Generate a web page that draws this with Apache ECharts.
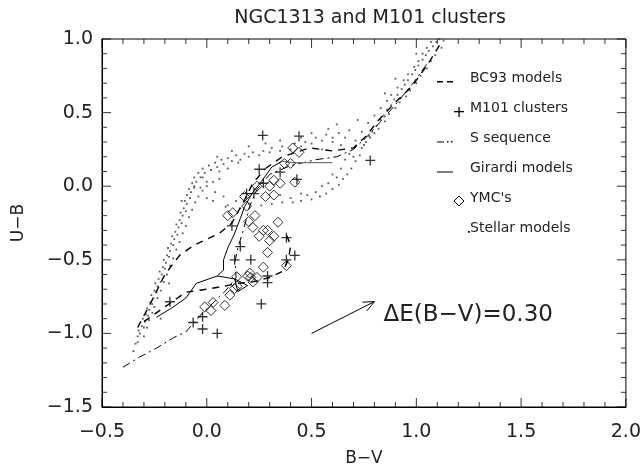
<!DOCTYPE html>
<html><head><meta charset="utf-8">
<script src="https://cdn.jsdelivr.net/npm/echarts@6/dist/echarts.min.js"></script>
<style>html,body{margin:0;padding:0;background:#fff}#c{width:644px;height:472px}</style>
</head><body><div id="c"></div>
<script>
// ---- data ----
const titleText = 'NGC1313 and M101 clusters';
const xRange = [-0.5, 2.0];
const yRange = [-1.5, 1.0];
const tickStep = 0.5;
const minorSplit = 5;

const stellarModels = [
[-0.35,-1.12],[-0.34,-1.07],[-0.33,-1.02],[-0.325,-0.98],[-0.31,-0.95],[-0.305,-0.9],[-0.29,-0.87],[-0.285,-0.83],[-0.27,-0.79],[-0.265,-0.74],[-0.25,-0.71],[-0.245,-0.66],[-0.23,-0.63],[-0.225,-0.58],[-0.21,-0.55],[-0.205,-0.5],[-0.19,-0.47],[-0.185,-0.42],[-0.17,-0.39],[-0.165,-0.34],[-0.15,-0.31],[-0.145,-0.26],[-0.13,-0.23],[-0.125,-0.18],[-0.11,-0.15],[-0.105,-0.1],[-0.095,-0.06],[-0.085,-0.02],[-0.07,0.02],[-0.06,0.06],[-0.04,0.09],[-0.02,0.12],[0.01,0.14],[0.04,0.16],[0.07,0.18],[0.1,0.19],[0.14,0.21],[0.18,0.22],[0.22,0.23],[0.27,0.24],[0.31,0.26],[0.36,0.27],[0.42,0.29],[0.47,0.3],[0.52,0.33],[0.57,0.35],[0.63,0.36],[0.68,0.38],
[-0.3,-1.02],[-0.285,-0.96],[-0.275,-0.91],[-0.26,-0.86],[-0.25,-0.82],[-0.235,-0.76],[-0.22,-0.71],[-0.205,-0.65],[-0.19,-0.6],[-0.175,-0.54],[-0.16,-0.49],[-0.145,-0.43],[-0.13,-0.38],[-0.115,-0.32],[-0.1,-0.27],[-0.085,-0.21],[-0.07,-0.16],[-0.055,-0.11],[-0.04,-0.07],[-0.02,-0.03],[0.0,0.0],[0.03,0.03],[0.06,0.05],
[-0.33,-1.06],[-0.32,-1.0],[-0.3,-0.96],[-0.295,-0.92],[-0.28,-0.88],[-0.275,-0.84],[-0.26,-0.8],[-0.255,-0.76],[-0.24,-0.72],[-0.235,-0.68],[-0.22,-0.65],[-0.215,-0.6],[-0.2,-0.56],[-0.195,-0.52],[-0.18,-0.48],[-0.175,-0.44],[-0.16,-0.4],[-0.155,-0.36],[-0.14,-0.33],[-0.135,-0.28],[-0.12,-0.25],[-0.115,-0.2],[-0.1,-0.17],[-0.095,-0.12],[-0.08,-0.08],[-0.075,-0.04],[-0.06,-0.01],[-0.05,0.03],[-0.03,0.06],[-0.01,0.09],[0.02,0.11],[0.05,0.13],[0.08,0.15],[0.12,0.17],[0.16,0.18],[0.2,0.2],[0.25,0.21],[0.3,0.23],[0.35,0.24],[0.4,0.25],[0.45,0.27],[0.5,0.29],[0.55,0.31],[0.6,0.33],
[-0.12,-0.1],[-0.06,0.0],[-0.02,0.06],[0.0,-0.08],[0.03,-0.1],[0.06,0.1],[0.1,0.12],[0.15,0.16],[0.09,-0.14],[-0.22,-0.9],[-0.18,-0.66],
[0.05,0.2],[0.12,0.24],[0.2,0.27],[0.28,0.29],[0.35,0.31],[0.45,0.33],[0.5,0.36],[0.58,0.39],[0.62,0.42],[0.0,0.03],[-0.03,-0.01],[0.04,-0.04],[0.08,-0.07],[0.14,-0.1],[0.2,-0.12],
[0.1,-0.13],[0.16,-0.15],[0.26,-0.13],[0.31,-0.12],[0.36,-0.11],[0.41,-0.11],[0.45,-0.1],[0.5,-0.09],[0.54,-0.07],[0.57,-0.05],[0.6,-0.02],[0.63,0.01],[0.65,0.05],[0.67,0.08],[0.69,0.12],[0.71,0.17],[0.73,0.21],[0.35,-0.06],[0.45,-0.05],[0.55,0.0],[0.62,0.06],
[0.4,-0.08],[0.48,-0.06],[0.52,-0.04],[0.58,0.02],[0.6,0.08],[0.64,0.12],[0.66,0.18],[0.68,0.22],[0.7,0.2],
[0.74,0.26],[0.76,0.3],[0.775,0.34],[0.79,0.37],[0.81,0.41],[0.83,0.45],[0.845,0.48],[0.86,0.52],[0.88,0.55],[0.895,0.59],[0.91,0.62],[0.93,0.66],[0.945,0.69],[0.96,0.72],[0.98,0.76],[0.995,0.79],[1.01,0.82],[1.03,0.86],[1.045,0.89],[1.06,0.92],[1.08,0.95],[1.095,0.98],[1.11,1.0],
[0.75,0.28],[0.78,0.33],[0.8,0.36],[0.82,0.39],[0.85,0.44],[0.87,0.49],[0.9,0.53],[0.92,0.57],[0.95,0.61],[0.97,0.65],[1.0,0.7],[1.02,0.75],[1.05,0.8],[1.07,0.85],[1.09,0.89],[1.12,0.94],[1.13,0.99],
[0.71,0.31],[0.74,0.37],[0.77,0.43],[0.8,0.48],[0.83,0.53],[0.86,0.58],[0.88,0.62],[0.91,0.67],[0.94,0.72],[0.96,0.76],[0.99,0.81],[1.01,0.85],[1.03,0.9],[1.05,0.94],[1.07,0.98],
[0.6,0.3],[0.66,0.33],[0.72,0.45],[0.85,0.63],[0.9,0.73],[1.0,0.9],[0.55,0.25],[0.64,0.28]
];

const bc93Upper = [[0.28,0.12],[0.36,0.20],[0.49,0.26],[0.60,0.24],[0.70,0.26],[0.76,0.34],[0.82,0.45],[0.90,0.57],[0.98,0.68],[1.06,0.84],[1.12,0.98]];
const bc93Middle = [[-0.33,-0.96],[-0.27,-0.80],[-0.20,-0.60],[-0.13,-0.47],[-0.06,-0.40],[0.0,-0.36],[0.06,-0.32],[0.12,-0.25],[0.17,-0.12],[0.22,0.02],[0.28,0.12]];
const bc93Lower = [[-0.30,-0.92],[-0.18,-0.80],[-0.10,-0.72],[0.0,-0.70],[0.08,-0.68],[0.15,-0.66],[0.22,-0.65],[0.30,-0.62],[0.36,-0.58],[0.39,-0.50],[0.40,-0.40],[0.38,-0.33]];

const sSequence = [[-0.40,-1.23],[-0.32,-1.16],[-0.24,-1.10],[-0.16,-1.03],[-0.10,-0.99],[-0.02,-0.86],[0.04,-0.78],[0.09,-0.71],[0.14,-0.62],[0.135,-0.51],[0.15,-0.41],[0.17,-0.32],[0.19,-0.22],[0.205,-0.135],[0.24,-0.02],[0.30,0.08],[0.40,0.14],[0.52,0.18],[0.62,0.20],[0.70,0.25],[0.76,0.33],[0.83,0.44],[0.91,0.57],[0.99,0.71],[1.06,0.85]];

const girardiMain = [[-0.24,-0.89],[-0.17,-0.83],[-0.10,-0.76],[-0.05,-0.66],[0.05,-0.61],[0.08,-0.57],[0.08,-0.50],[0.10,-0.42],[0.13,-0.33],[0.16,-0.22],[0.18,-0.14],[0.22,-0.04],[0.26,0.03],[0.31,0.13],[0.36,0.17]];
const girardiLoop = [[0.05,-0.61],[0.133,-0.63],[0.195,-0.675],[0.148,-0.716],[0.133,-0.63]];
const girardiTail = [[0.36,0.17],[0.41,0.16],[0.60,0.16]];

const m101Clusters = [[0.267,0.345],[0.44,0.34],[0.78,0.175],[0.25,0.115],[0.35,0.095],[0.43,0.047],[0.27,0.02],[0.19,-0.05],[0.225,-0.05],[0.12,-0.27],[0.38,-0.35],[0.16,-0.41],[0.42,-0.47],[0.133,-0.50],[0.21,-0.50],[0.38,-0.50],[0.29,-0.61],[0.29,-0.655],[0.26,-0.80],[-0.065,-0.926],[-0.02,-0.887],[-0.02,-0.97],[0.05,-1.0],[-0.176,-0.785]];

const ymcs = [[0.41,0.26],[0.44,0.23],[0.37,0.155],[0.40,0.155],[0.32,0.04],[0.35,0.02],[0.42,0.027],[0.30,0.0],[0.24,0.0],[0.28,-0.07],[0.32,-0.06],[0.18,-0.07],[0.19,-0.135],[0.23,-0.20],[0.10,-0.20],[0.124,-0.18],[0.20,-0.24],[0.34,-0.245],[0.22,-0.28],[0.27,-0.30],[0.29,-0.30],[0.25,-0.34],[0.32,-0.34],[0.30,-0.37],[0.29,-0.45],[0.27,-0.55],[0.205,-0.59],[0.195,-0.61],[0.22,-0.65],[0.38,-0.54],[0.143,-0.615],[0.133,-0.695],[0.145,-0.68],[0.11,-0.74],[0.086,-0.81],[0.03,-0.79],[-0.01,-0.82],[0.02,-0.845],[0.21,-0.62],[0.24,-0.62]];

const reddeningStart = [0.5, -1.0];
const reddeningEBV = 0.30;
const reddeningSlope = 0.72;
const reddeningLabel = 'ΔE(B−V)=0.30';

const legendItems = ['BC93 models', 'M101 clusters', 'S sequence', 'Girardi models', "YMC's", 'Stellar models'];
const xName = 'B−V';
const yName = 'U−B';

// ---- chart ----
const FONT = 'DejaVu Sans';
const TXT = '#222';
const fmt = v => (v < 0 ? '−' : '') + Math.abs(v).toFixed(1);
const reddeningEnd = [reddeningStart[0] + reddeningEBV, reddeningStart[1] + reddeningSlope * reddeningEBV];

// inside ticks on all four edges, drawn as scatter marks on the axes' own scales
const minorStep = tickStep / minorSplit;
const edgeTicks = [];
const nx = Math.round((xRange[1] - xRange[0]) / minorStep);
for (let i = 0; i <= nx; i++) {
  const v = +(xRange[0] + i * minorStep).toFixed(4);
  const len = i % minorSplit === 0 ? 9 : 5;
  edgeTicks.push({ value: [v, yRange[0]], symbolSize: [1, len], symbolOffset: [0, -len / 2] });
  edgeTicks.push({ value: [v, yRange[1]], symbolSize: [1, len], symbolOffset: [0, len / 2] });
}
const ny = Math.round((yRange[1] - yRange[0]) / minorStep);
for (let i = 0; i <= ny; i++) {
  const v = +(yRange[0] + i * minorStep).toFixed(4);
  const len = i % minorSplit === 0 ? 9 : 5;
  edgeTicks.push({ value: [xRange[0], v], symbolSize: [len, 1], symbolOffset: [len / 2, 0] });
  edgeTicks.push({ value: [xRange[1], v], symbolSize: [len, 1], symbolOffset: [-len / 2, 0] });
}

function axisBase(range, extra) {
  return Object.assign({
    type: 'value', min: range[0], max: range[1], interval: tickStep,
    axisLine: { show: true, onZero: false, lineStyle: { color: '#000', width: 1 } },
    axisTick: { show: false },
    minorTick: { show: false },
    splitLine: { show: false }
  }, extra);
}
const plusPath = 'path://M0,5L10,5M5,0L5,10';
const lineBase = { type: 'line', symbol: 'none', silent: true };

const legendGroup = { id: 'legend', type: 'group', silent: true, children: [
  { type: 'rect', shape: { x: 437, y: 81, width: 6, height: 1.5 }, style: { fill: '#000' } },
  { type: 'rect', shape: { x: 447, y: 81, width: 6, height: 1.5 }, style: { fill: '#000' } },
  { type: 'rect', shape: { x: 454, y: 111, width: 10, height: 1.3 }, style: { fill: '#000' } },
  { type: 'rect', shape: { x: 458.4, y: 107, width: 1.3, height: 10 }, style: { fill: '#000' } },
  { type: 'rect', shape: { x: 437, y: 141.5, width: 7, height: 1 }, style: { fill: '#000' } },
  { type: 'rect', shape: { x: 447, y: 141, width: 1.5, height: 1.5 }, style: { fill: '#000' } },
  { type: 'rect', shape: { x: 451, y: 141, width: 1.5, height: 1.5 }, style: { fill: '#000' } },
  { type: 'rect', shape: { x: 437, y: 171.5, width: 16, height: 1 }, style: { fill: '#000' } },
  { type: 'polygon', shape: { points: [[459, 196], [464, 201], [459, 206], [454, 201]] }, style: { stroke: '#000', fill: 'rgba(0,0,0,0)', lineWidth: 1 } },
  { type: 'rect', shape: { x: 468, y: 231, width: 1.8, height: 1.8 }, style: { fill: '#000' } }
].concat(legendItems.map((t, i) => ({ type: 'text', x: 470, y: 78 + i * 30,
  style: { text: t, font: '14px "DejaVu Sans"', fill: TXT, verticalAlign: 'middle', align: 'left' } }))) };

const chart = echarts.init(document.getElementById('c'));
chart.setOption({
  animation: false,
  backgroundColor: '#fff',
  title: { text: titleText, left: 365, top: 4, textAlign: 'center',
    textStyle: { fontFamily: FONT, fontSize: 19, fontWeight: 'normal', color: TXT } },
  grid: { left: 102, right: 17, top: 39, bottom: 63, show: true, borderColor: '#000', borderWidth: 1, backgroundColor: 'transparent' },
  xAxis: axisBase(xRange, { name: xName, nameLocation: 'middle', nameGap: 43,
    nameTextStyle: { fontFamily: FONT, fontSize: 17, color: TXT },
    axisLabel: { formatter: fmt, margin: 16, fontFamily: FONT, fontSize: 19, color: TXT } }),
  yAxis: axisBase(yRange, { name: yName, nameLocation: 'middle', nameGap: 75, nameRotate: 90,
    nameTextStyle: { fontFamily: FONT, fontSize: 17, color: TXT },
    axisLabel: { formatter: fmt, margin: 9, fontFamily: FONT, fontSize: 19, color: TXT } }),
  series: [
    { type: 'scatter', data: stellarModels, symbol: 'rect', symbolSize: 1.8, itemStyle: { color: '#333' }, silent: true, z: 1 },
    Object.assign({}, lineBase, { data: bc93Upper, lineStyle: { color: '#000', width: 1.4, type: [7, 6] }, z: 2 }),
    Object.assign({}, lineBase, { data: bc93Middle, lineStyle: { color: '#000', width: 1.4, type: [7, 6] }, z: 2 }),
    Object.assign({}, lineBase, { data: bc93Lower, lineStyle: { color: '#000', width: 1.4, type: [7, 6] }, z: 2 }),
    Object.assign({}, lineBase, { data: sSequence, lineStyle: { color: '#000', width: 1, type: [8, 4, 2, 4] }, z: 2 }),
    Object.assign({}, lineBase, { data: girardiMain, lineStyle: { color: '#000', width: 1 }, z: 2 }),
    Object.assign({}, lineBase, { data: girardiLoop, lineStyle: { color: '#000', width: 1 }, z: 2 }),
    Object.assign({}, lineBase, { data: girardiTail, lineStyle: { color: '#777', width: 1.2 }, z: 2 }),
    { type: 'scatter', data: m101Clusters, symbol: plusPath, symbolSize: 10, silent: true, z: 3,
      itemStyle: { color: 'none', borderColor: '#000', borderWidth: 1.3 } },
    { type: 'scatter', data: ymcs, symbol: 'diamond', symbolSize: [10, 10], silent: true, z: 3,
      itemStyle: { color: 'none', borderColor: '#000', borderWidth: 1 } },
    { type: 'scatter', data: edgeTicks, symbol: 'rect', clip: false, silent: true, z: 6,
      itemStyle: { color: '#000' } },
    { type: 'custom', silent: true, z: 4,
      data: [[reddeningStart[0], reddeningStart[1], reddeningEnd[0], reddeningEnd[1]]],
      encode: { x: [0, 2], y: [1, 3] },
      renderItem: (params, api) => {
        const p0 = api.coord([api.value(0), api.value(1)]);
        const p1 = api.coord([api.value(2), api.value(3)]);
        const ang = Math.atan2(p1[1] - p0[1], p1[0] - p0[0]);
        const L = 12, a = 0.42;
        const h1 = [p1[0] - L * Math.cos(ang - a), p1[1] - L * Math.sin(ang - a)];
        const h2 = [p1[0] - L * Math.cos(ang + a), p1[1] - L * Math.sin(ang + a)];
        return { type: 'group', children: [
          { type: 'line', shape: { x1: p0[0], y1: p0[1], x2: p1[0], y2: p1[1] }, style: { stroke: '#000', lineWidth: 1 } },
          { type: 'polyline', shape: { points: [h1, p1, h2] }, style: { stroke: '#000', lineWidth: 1, fill: 'rgba(0,0,0,0)' } },
          { type: 'text', x: p1[0] + 9, y: p1[1] + 13,
            style: { text: reddeningLabel, font: '23px "DejaVu Sans"', fill: TXT, verticalAlign: 'middle', align: 'left' } }
        ] };
      } }
  ],
  graphic: [legendGroup]
});
</script></body></html>
